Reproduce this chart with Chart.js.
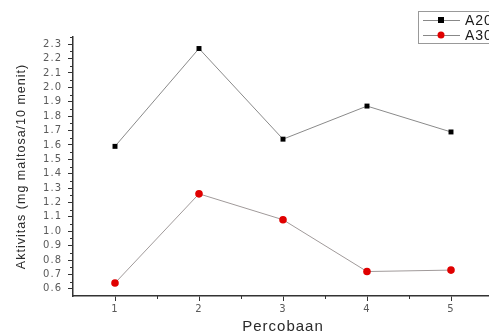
<!DOCTYPE html>
<html>
<head>
<meta charset="utf-8">
<script src="https://cdn.jsdelivr.net/npm/chart.js@4.4.0/dist/chart.umd.min.js"></script>
<style>
    html, body { margin: 0; padding: 0; background: #fff; overflow: hidden; }
    #wrap { position: relative; width: 489px; height: 336px; overflow: hidden; }
    canvas { position: absolute; left: 0; top: 0; }
</style>
</head>
<body>
<div id="wrap"><canvas id="chart" width="500" height="336"></canvas></div>
<script>
const percobaan = [1, 2, 3, 4, 5];
const a20 = [1.59, 2.27, 1.64, 1.87, 1.69];
const a30 = [0.64, 1.26, 1.08, 0.72, 0.73];
const seriesNames = ["A20", "A30"];
const yTickValues = [0.6, 0.7, 0.8, 0.9, 1.0, 1.1, 1.2, 1.3, 1.4, 1.5, 1.6, 1.7, 1.8, 1.9, 2.0, 2.1, 2.2, 2.3];
const xTickValues = [1, 2, 3, 4, 5];

const axisColor = "#333";
const labelColor = "#5a5a5a";
const sans = "'Liberation Sans', Arial, sans-serif";
const wide = "'DejaVu Sans', sans-serif";

// the original's axis text is widely spaced
const spacing = {
    id: "spacing",
    beforeDraw(chart) {
        chart.ctx.letterSpacing = "1px";
    }
};

// minor ticks + legend box, drawn after the chart
const extras = {
    id: "extras",
    afterDraw(chart) {
        const ctx = chart.ctx;
        const x = chart.scales.x, y = chart.scales.y;
        ctx.save();
        ctx.strokeStyle = axisColor;
        ctx.lineWidth = 1;
        ctx.beginPath();
        for (let i = 0; i < yTickValues.length; i++) {
            const v = yTickValues[i] + 0.05;
            if (v > y.max) break;
            const py = Math.round(y.getPixelForValue(v)) + 0.5;
            ctx.moveTo(x.left - 3, py);
            ctx.lineTo(x.left, py);
        }
        for (let i = 0; i < xTickValues.length; i++) {
            const v = xTickValues[i] + 0.5;
            const px = Math.round(x.getPixelForValue(v)) + 0.5;
            ctx.moveTo(px, y.bottom);
            ctx.lineTo(px, y.bottom + 3);
        }
        ctx.stroke();

        // legend
        ctx.strokeStyle = "#999";
        ctx.strokeRect(418.5, 11.5, 90, 32);
        const rows = [
            { y: 20, color: "#000", style: "rect" },
            { y: 35, color: "#e00000", style: "circle" }
        ];
        ctx.font = "14px " + sans;
        ctx.letterSpacing = "1px";
        ctx.textBaseline = "middle";
        rows.forEach((r, i) => {
            ctx.strokeStyle = "#888";
            ctx.beginPath();
            ctx.moveTo(423, r.y + 0.5);
            ctx.lineTo(460, r.y + 0.5);
            ctx.stroke();
            ctx.fillStyle = r.color;
            if (r.style === "rect") {
                ctx.fillRect(438, r.y - 3, 6, 6);
            } else {
                ctx.beginPath();
                ctx.arc(441, r.y, 3.5, 0, Math.PI * 2);
                ctx.fill();
            }
            ctx.fillStyle = "#1a1a1a";
            ctx.fillText(seriesNames[i], 465, r.y + 1);
        });
        ctx.restore();
    }
};

new Chart(document.getElementById("chart"), {
    type: "line",
    data: {
        datasets: [
            {
                label: seriesNames[0],
                data: percobaan.map((p, i) => ({ x: p, y: a20[i] })),
                borderColor: "#8a8a8a",
                borderWidth: 1,
                pointStyle: "rect",
                pointRadius: 3.5,
                pointBackgroundColor: "#000",
                pointBorderColor: "#000",
                pointBorderWidth: 0,
                tension: 0
            },
            {
                label: seriesNames[1],
                data: percobaan.map((p, i) => ({ x: p, y: a30[i] })),
                borderColor: "#a09a9a",
                borderWidth: 1,
                pointStyle: "circle",
                pointRadius: 3.8,
                pointBackgroundColor: "#e00000",
                pointBorderColor: "#e00000",
                pointBorderWidth: 0,
                tension: 0
            }
        ]
    },
    options: {
        responsive: false,
        devicePixelRatio: 1,
        animation: false,
        layout: { padding: { left: 0, right: 7, top: 37, bottom: 0 } },
        plugins: {
            legend: { display: false },
            tooltip: { enabled: false }
        },
        scales: {
            x: {
                type: "linear",
                min: 0.5,
                max: 5.5,
                afterFit(scale) { scale.height = 40; },
                afterBuildTicks(scale) { scale.ticks = xTickValues.map(v => ({ value: v })); },
                border: { display: true, color: axisColor, width: 1.5 },
                grid: { drawOnChartArea: false, drawTicks: true, tickLength: 5, color: axisColor },
                ticks: {
                    color: labelColor,
                    padding: 2,
                    font: { size: 10, family: wide }
                },
                title: {
                    display: true,
                    text: "Percobaan",
                    color: "#2a2a2a",
                    padding: { top: 2, bottom: 0 },
                    font: { size: 15, family: sans }
                }
            },
            y: {
                min: 0.55,
                max: 2.35,
                afterFit(scale) { scale.width = 73; },
                afterBuildTicks(scale) { scale.ticks = yTickValues.map(v => ({ value: v })); },
                border: { display: true, color: axisColor, width: 1.5 },
                grid: { drawOnChartArea: false, drawTicks: true, tickLength: 5, color: axisColor },
                ticks: {
                    color: labelColor,
                    padding: 6,
                    callback: v => v.toFixed(1),
                    font: { size: 10, family: wide }
                },
                title: {
                    display: true,
                    text: "Aktivitas (mg maltosa/10 menit)",
                    color: "#2a2a2a",
                    padding: { top: 14, bottom: 0 },
                    font: { size: 12.5, family: sans }
                }
            }
        }
    },
    plugins: [spacing, extras]
});
</script>
</body>
</html>
